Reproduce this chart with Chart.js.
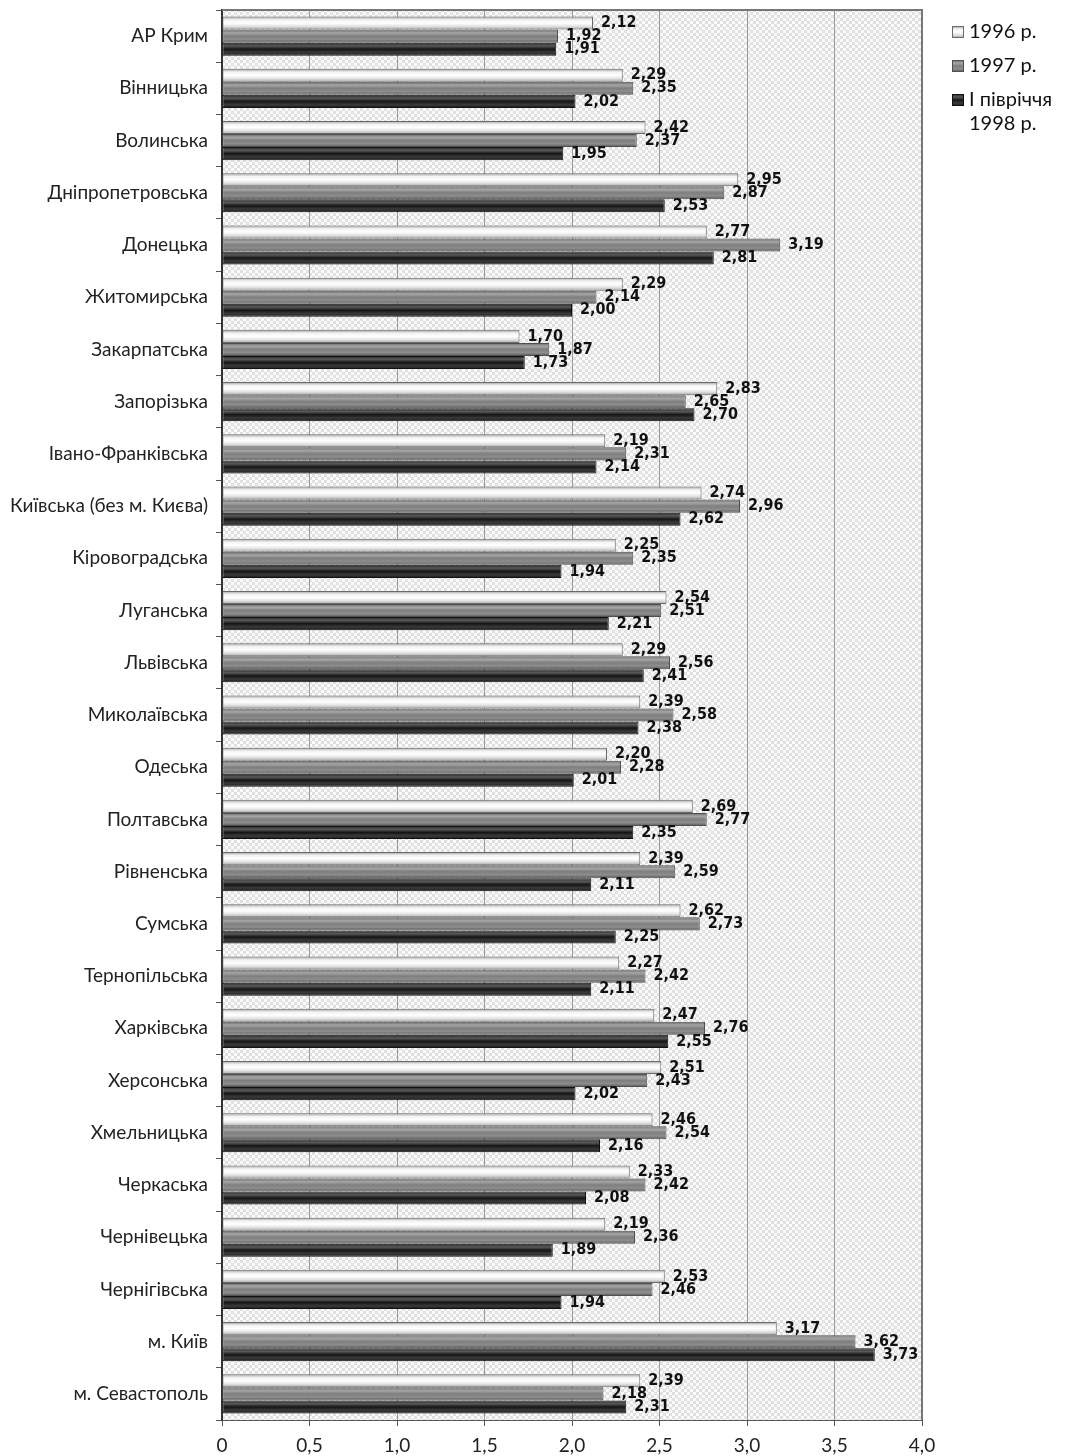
<!DOCTYPE html>
<html lang="uk">
<head>
<meta charset="UTF-8" />
<script src="https://cdn.jsdelivr.net/npm/chart.js@4.4.0/dist/chart.umd.min.js"></script>
<title>Коефіцієнт</title>
<style>
  body { margin: 0; background: #fff; }
  #chart { display: block; }
</style>
</head>
<body>
<canvas id="chart" width="1072" height="1456"></canvas>
<script>
const regions = [
  'АР Крим', 'Вінницька', 'Волинська', 'Дніпропетровська', 'Донецька',
  'Житомирська', 'Закарпатська', 'Запорізька', 'Івано-Франківська',
  'Київська (без м. Києва)', 'Кіровоградська', 'Луганська', 'Львівська',
  'Миколаївська', 'Одеська', 'Полтавська', 'Рівненська', 'Сумська',
  'Тернопільська', 'Харківська', 'Херсонська', 'Хмельницька', 'Черкаська',
  'Чернівецька', 'Чернігівська', 'м. Київ', 'м. Севастополь'
];
const y1996 = [2.12, 2.29, 2.42, 2.95, 2.77, 2.29, 1.70, 2.83, 2.19, 2.74, 2.25, 2.54, 2.29, 2.39,
  2.20, 2.69, 2.39, 2.62, 2.27, 2.47, 2.51, 2.46, 2.33, 2.19, 2.53, 3.17, 2.39];
const y1997 = [1.92, 2.35, 2.37, 2.87, 3.19, 2.14, 1.87, 2.65, 2.31, 2.96, 2.35, 2.51, 2.56, 2.58,
  2.28, 2.77, 2.59, 2.73, 2.42, 2.76, 2.43, 2.54, 2.42, 2.36, 2.46, 3.62, 2.18];
const y1998 = [1.91, 2.02, 1.95, 2.53, 2.81, 2.00, 1.73, 2.70, 2.14, 2.62, 1.94, 2.21, 2.41, 2.38,
  2.01, 2.35, 2.11, 2.25, 2.11, 2.55, 2.02, 2.16, 2.08, 1.89, 1.94, 3.73, 2.31];
const seriesNames = [['1996 р.'], ['1997 р.'], ['І півріччя', '1998 р.']];

const fills = [
  ['#9c9c9c', '#f2f2f2', '#ffffff', '#e2e2e2', '#a4a4a4'],
  ['#646464', '#a6a6a6', '#7e7e7e', '#8e8e8e', '#545454'],
  ['#222222', '#5a5a5a', '#151515', '#3a3a3a', '#1a1a1a']
];
const borders = ['#6a6a6a', '#505050', '#111111'];

const catPct = 0.75;

function barFill(stops) {
  return (c) => {
    const ch = c.chart;
    const ys = ch.scales && ch.scales.y;
    if (!ys || !ch.chartArea || c.dataIndex === undefined) return stops[2];
    const barH = ys.height / regions.length * catPct / 3;
    const mid = ys.getPixelForValue(c.dataIndex) + (c.datasetIndex - 1) * barH;
    const g = ch.ctx.createLinearGradient(0, mid - barH / 2, 0, mid + barH / 2);
    stops.forEach((s, i) => g.addColorStop(i / (stops.length - 1), s));
    return g;
  };
}

function hatch() {
  const p = document.createElement('canvas');
  p.width = 6; p.height = 6;
  const x = p.getContext('2d');
  x.fillStyle = '#fbfbfb';
  x.fillRect(0, 0, 6, 6);
  x.fillStyle = '#dedede';
  x.fillRect(0, 0, 3, 3);
  x.fillRect(3, 3, 3, 3);
  x.fillStyle = '#ececec';
  x.fillRect(1, 1, 1, 1);
  x.fillRect(4, 4, 1, 1);
  return p;
}

const plotBack = {
  id: 'plotBack',
  beforeDraw(chart) {
    const { ctx, chartArea: a } = chart;
    ctx.save();
    ctx.fillStyle = ctx.createPattern(hatch(), 'repeat');
    ctx.fillRect(a.left, a.top, a.right - a.left, a.bottom - a.top);
    ctx.restore();
  },
  afterDraw(chart) {
    const { ctx, chartArea: a } = chart;
    ctx.save();
    ctx.strokeStyle = '#777';
    ctx.lineWidth = 2;
    ctx.beginPath();
    ctx.moveTo(a.left, a.top);
    ctx.lineTo(a.right, a.top);
    ctx.lineTo(a.right, a.bottom);
    ctx.stroke();

    // legend
    const lx = 952;
    let ly = 32;
    ctx.font = '20px Lato, "Open Sans", sans-serif';
    ctx.textBaseline = 'middle';
    ctx.textAlign = 'left';
    seriesNames.forEach((lines, i) => {
      const g = ctx.createLinearGradient(0, ly - 6, 0, ly + 6);
      fills[i].forEach((s, k) => g.addColorStop(k / (fills[i].length - 1), s));
      ctx.fillStyle = g;
      ctx.fillRect(lx, ly - 6, 12, 12);
      ctx.strokeStyle = borders[i];
      ctx.lineWidth = 1;
      ctx.strokeRect(lx + 0.5, ly - 5.5, 11, 11);
      ctx.fillStyle = '#111';
      lines.forEach((t, k) => ctx.fillText(t, lx + 17, ly + k * 24));
      ly += 34;
    });
    ctx.restore();
  }
};

const valueLabels = {
  id: 'valueLabels',
  afterDatasetsDraw(chart) {
    const { ctx } = chart;
    ctx.save();
    ctx.font = 'bold 16px "Liberation Sans Narrow", "DejaVu Sans Condensed", sans-serif';
    ctx.fillStyle = '#111';
    ctx.textBaseline = 'middle';
    ctx.textAlign = 'left';
    chart.data.datasets.forEach((ds, d) => {
      chart.getDatasetMeta(d).data.forEach((bar, i) => {
        ctx.fillText(ds.data[i].toFixed(2).replace('.', ','), bar.x + 8, bar.y);
      });
    });
    ctx.restore();
  }
};

new Chart(document.getElementById('chart'), {
  type: 'bar',
  data: {
    labels: regions,
    datasets: [y1996, y1997, y1998].map((vals, i) => ({
      label: seriesNames[i].join(' '),
      data: vals,
      backgroundColor: barFill(fills[i]),
      borderColor: borders[i],
      borderWidth: 1,
      borderSkipped: false,
      categoryPercentage: catPct,
      barPercentage: 1
    }))
  },
  options: {
    indexAxis: 'y',
    responsive: false,
    animation: false,
    layout: { padding: { top: 10, right: 150, left: 0, bottom: 0 } },
    plugins: {
      legend: { display: false },
      tooltip: { enabled: false }
    },
    scales: {
      x: {
        min: 0,
        max: 4,
        ticks: {
          stepSize: 0.5,
          color: '#222',
          font: { family: 'Lato, "Open Sans", sans-serif', size: 19 },
          padding: 8,
          callback: v => v === 0 ? '0' : v.toFixed(1).replace('.', ',')
        },
        grid: { color: '#9a9a9a', lineWidth: 1, tickLength: 6, tickColor: '#555' },
        border: { color: '#555', width: 1 },
        afterFit: s => { s.height = 36; }
      },
      y: {
        ticks: {
          color: '#222',
          font: { family: 'Lato, "Open Sans", sans-serif', size: 19 },
          padding: 8
        },
        grid: { offset: true, drawOnChartArea: false, tickLength: 6, color: '#555' },
        border: { color: '#333', width: 2 },
        afterFit: s => {
          s.width = 222;
          s.paddingTop = 0;
          s.paddingBottom = 0;
        }
      }
    }
  },
  plugins: [plotBack, valueLabels]
});
</script>
</body>
</html>
